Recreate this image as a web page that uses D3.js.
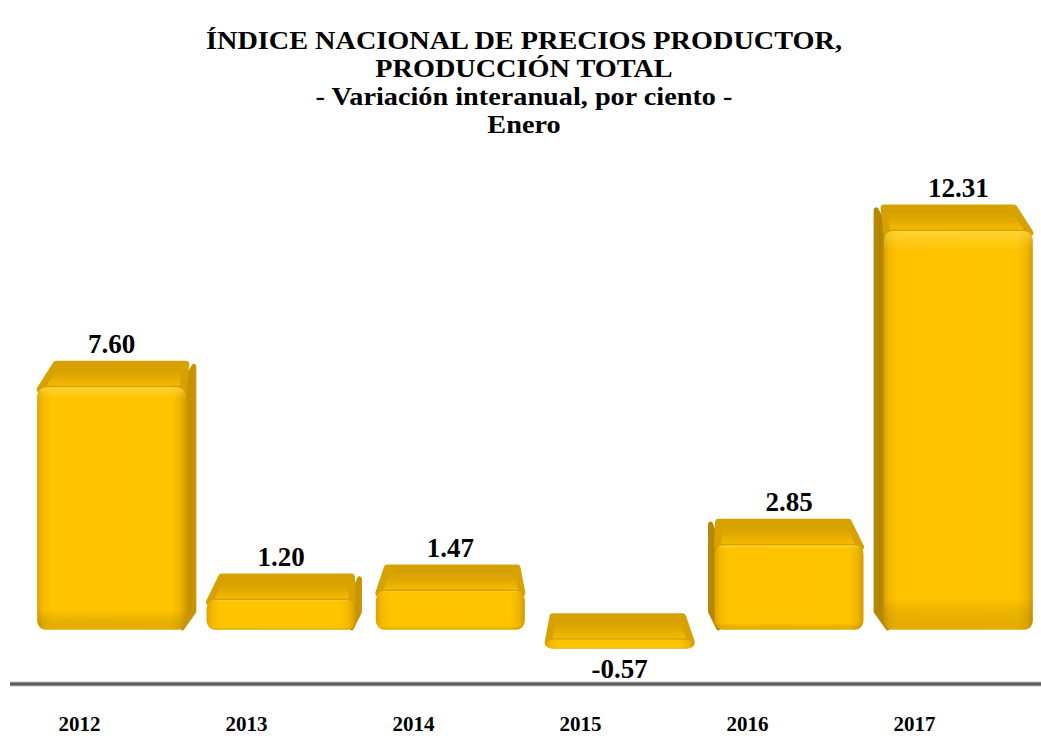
<!DOCTYPE html>
<html>
<head>
<meta charset="utf-8">
<script src="https://cdn.jsdelivr.net/npm/d3@7"></script>
<style>
  body { margin: 0; background: #fff; }
</style>
</head>
<body>
<div id="chart"></div>
<script>
// data
const years = ['2012', '2013', '2014', '2015', '2016', '2017'];
const values = [7.60, 1.20, 1.47, -0.57, 2.85, 12.31];
const titleLines = [
  'ÍNDICE NACIONAL DE PRECIOS PRODUCTOR,',
  'PRODUCCIÓN TOTAL',
  '- Variación interanual, por ciento -',
  'Enero'
];

const width = 1041, height = 738;
const depth = 26;      // projected depth of the top face
const vanishX = 535;   // perspective centre
const skew = 0.022;
const serif = '"Liberation Serif", "Times New Roman", "DejaVu Serif", serif';

const svg = d3.select('#chart').append('svg')
  .attr('width', width)
  .attr('height', height);

const defs = svg.append('defs');

function grad(id, x2, y2, stops) {
  const g = defs.append('linearGradient').attr('id', id)
    .attr('x1', 0).attr('y1', 0).attr('x2', x2).attr('y2', y2);
  stops.forEach(s => g.append('stop').attr('offset', s[0]).attr('stop-color', s[1]));
}
grad('frontH', 1, 0, [[0, '#dca300'], [0.04, '#f5ba00'], [0.1, '#ffc300'], [0.9, '#ffc400'], [0.96, '#f0b500'], [1, '#d29c00']]);
grad('frontV', 0, 1, [[0, 'rgba(255,230,120,0.45)'], [0.05, 'rgba(255,220,80,0)'], [0.92, 'rgba(0,0,0,0)'], [1, 'rgba(140,90,0,0.22)']]);
grad('topV', 0, 1, [[0, '#d09b00'], [0.5, '#e2aa00'], [0.8, '#f2b700'], [1, '#fcc610']]);
grad('sideH', 1, 0, [[0, '#d6a000'], [1, '#b88900']]);
grad('sideL', 1, 0, [[0, '#a87c00'], [1, '#c99500']]);

// title: the reference face is set wide, so stretch a little
svg.append('g')
  .attr('font-family', serif)
  .attr('font-weight', 'bold')
  .attr('font-size', 25)
  .selectAll('text')
  .data(titleLines)
  .join('text')
  .attr('x', 524)
  .attr('y', (d, i) => 49 + i * 28)
  .attr('text-anchor', 'middle')
  .text(d => d)
  .each(function () {
    const len = this.getComputedTextLength();
    d3.select(this)
      .attr('textLength', len * 1.13)
      .attr('lengthAdjust', 'spacingAndGlyphs');
  });

const x = d3.scaleBand()
  .domain(years)
  .range([27, 1043])
  .paddingInner(0.12)
  .paddingOuter(0.06);

// category labels sit a little left of the bars (perspective floor)
const xLab = d3.scalePoint()
  .domain(years)
  .range([79, 914]);

const y = d3.scaleLinear()
  .domain([-1, 13])
  .range([660, 195]);

const data = years.map((yr, i) => ({year: yr, value: values[i]}));

const bars = svg.append('g').selectAll('g.bar')
  .data(data)
  .join('g')
  .attr('class', 'bar');

bars.each(function (d) {
  const g = d3.select(this);
  const x0 = x(d.year), x1 = x0 + x.bandwidth();
  const top = y(Math.max(d.value, 0));
  const frontTop = top + depth / 2;
  const frontBot = y(Math.min(d.value, 0)) + 3;
  const s0 = (vanishX - x0) * skew, s1 = (vanishX - x1) * skew;
  const backTop = frontTop - depth;

  // side face (right side for bars left of centre, left side otherwise)
  if (s1 > 2) {
    g.append('path')
      .attr('d', `M${x1 - 4},${frontTop} L${x1 + s1},${backTop + 5} L${x1 + s1},${frontBot - depth * 0.7} L${x1 - 4},${frontBot - 2}Z`)
      .attr('fill', 'url(#sideH)')
      .attr('stroke', '#c89500').attr('stroke-width', 5).attr('stroke-linejoin', 'round');
  }
  if (s0 < -2) {
    g.append('path')
      .attr('d', `M${x0 + 4},${frontTop} L${x0 + s0},${backTop + 5} L${x0 + s0},${frontBot - depth * 0.7} L${x0 + 4},${frontBot - 2}Z`)
      .attr('fill', 'url(#sideL)')
      .attr('stroke', '#b68700').attr('stroke-width', 5).attr('stroke-linejoin', 'round');
  }

  // top face
  g.append('path')
    .attr('d', `M${x0 + 3},${frontTop + 2} L${x0 + s0 + 8},${backTop + 3} L${x1 + s1 - 8},${backTop + 3} L${x1 - 3},${frontTop + 2}Z`)
    .attr('fill', 'url(#topV)')
    .attr('stroke', '#d7a100').attr('stroke-width', 7).attr('stroke-linejoin', 'round');

  // front face
  g.append('rect')
    .attr('x', x0).attr('y', frontTop)
    .attr('width', x1 - x0).attr('height', frontBot - frontTop)
    .attr('rx', 9)
    .attr('fill', 'url(#frontH)');
  g.append('rect')
    .attr('x', x0).attr('y', frontTop)
    .attr('width', x1 - x0).attr('height', frontBot - frontTop)
    .attr('rx', 9)
    .attr('fill', 'url(#frontV)');
});

// value labels
svg.append('g')
  .attr('font-family', serif)
  .attr('font-weight', 'bold')
  .attr('font-size', 27)
  .selectAll('text')
  .data(data)
  .join('text')
  .attr('x', d => x(d.year) + x.bandwidth() / 2)
  .attr('y', d => d.value >= 0 ? y(d.value) - depth / 2 - 8 : y(d.value) + 32)
  .attr('text-anchor', 'middle')
  .text(d => d.value.toFixed(2));

// category axis
const xAxis = svg.append('g')
  .attr('transform', 'translate(0,684)')
  .call(d3.axisBottom(xLab).tickSize(0).tickPadding(32));
xAxis.select('.domain').remove();
xAxis.attr('font-family', serif).attr('font-size', 21).attr('font-weight', 'bold');
xAxis.selectAll('text').attr('fill', '#000');
xAxis.insert('rect', ':first-child')
  .attr('x', 10).attr('y', -2.5).attr('width', width - 10).attr('height', 5)
  .attr('fill', '#bdbdbd');
xAxis.insert('rect', '.tick')
  .attr('x', 10).attr('y', -1.5).attr('width', width - 10).attr('height', 3)
  .attr('fill', '#5a5a5a');
</script>
</body>
</html>
